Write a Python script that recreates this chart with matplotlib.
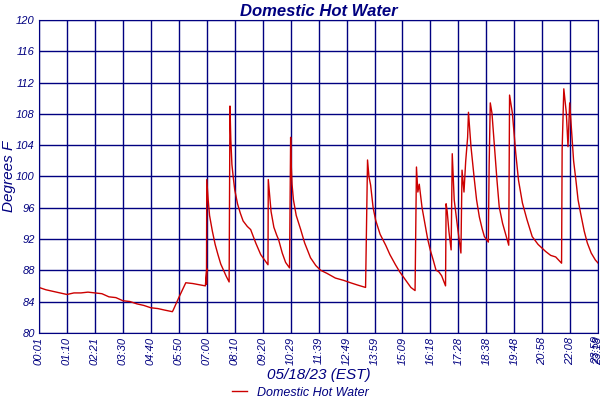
import matplotlib
matplotlib.use("Agg")
import matplotlib.pyplot as plt

tick_labels = ["00:01","01:10","02:21","03:30","04:40","05:50","07:00","08:10","09:20","10:29",
               "11:39","12:49","13:59","15:09","16:18","17:28","18:38","19:48","20:58","22:08","23:18"]

t = [0,0.25,0.5,0.75,1,1.25,1.5,1.75,2,2.25,2.5,2.75,3,3.25,3.5,3.75,4,4.25,4.5,4.77,4.8,5.0,5.25,5.5,5.95,6.0,5.99,
     6.0,6.05,6.1,6.2,6.3,6.4,6.5,6.6,6.7,6.8,6.83,6.86,6.9,6.95,7.0,7.1,7.2,7.3,7.45,7.57,7.75,7.93,8.19,
     8.2,8.25,8.3,8.4,8.5,8.57,8.7,8.82,8.96,9.0,9.02,9.05,9.1,9.2,9.36,9.5,9.71,9.9,10.07,10.3,10.6,10.9,11.14,11.4,11.68,
     11.75,11.8,11.86,11.95,12.04,12.2,12.4,12.55,12.75,12.9,13.1,13.3,13.45,
     13.5,13.55,13.6,13.7,13.8,13.9,14.0,14.1,14.2,14.3,14.4,14.54,
     14.56,14.6,14.66,14.74,14.78,14.85,14.97,15.09,15.13,15.2,15.26,15.33,15.36,15.45,15.57,15.65,15.75,15.85,15.93,16.07,
     16.1,16.14,16.2,16.29,16.38,16.46,16.58,16.7,16.8,
     16.83,16.93,17.05,17.15,17.29,17.45,17.64,17.85,18.12,18.3,18.48,18.69,
     18.71,18.77,18.86,18.92,18.98,19.05,19.12,19.2,19.28,19.37,19.5,19.61,19.75,19.9,20.0]
temp = [85.8,85.5,85.3,85.1,84.9,85.1,85.1,85.2,85.1,85.0,84.6,84.5,84.1,84.0,83.7,83.5,83.2,83.1,82.9,82.7,82.9,84.5,86.4,86.3,86.0,88.2,86.2,
        99.6,97.0,95.0,93.0,91.3,90.0,88.8,88.0,87.2,86.5,109.0,104.7,101.5,99.8,98.3,96.5,95.3,94.3,93.6,93.2,91.5,90.0,88.7,
        99.6,97.5,95.5,93.5,92.5,91.9,90.2,89.0,88.3,105.0,101.5,99.0,97.0,95.0,93.2,91.5,89.6,88.6,88.0,87.6,87.0,86.7,86.4,86.1,85.8,
        102.1,100.0,98.9,96.0,94.4,92.6,91.2,90.0,88.7,87.8,86.8,85.8,85.4,
        101.2,98.0,99.0,96.0,94.0,92.0,90.5,89.3,88.0,87.8,87.3,86.0,
        96.5,95.5,93.0,90.6,102.9,97.0,93.5,90.2,100.8,98.0,101.9,105.0,108.2,103.8,99.6,97.0,94.8,93.3,92.3,91.6,
        101.5,109.4,108.1,103.8,99.5,96.1,94.0,92.5,91.2,
        110.4,108.1,103.0,99.5,96.6,94.5,92.3,91.3,90.4,89.9,89.7,88.9,
        103.4,111.2,108.1,103.8,109.4,105.6,102.0,99.6,97.0,95.3,93.0,91.5,90.2,89.3,88.9]

navy = "#000080"
fig = plt.figure(figsize=(6, 4), dpi=100)
ax = fig.add_axes([0.065, 0.168, 0.932, 0.782])
ax.plot(t, temp, color="#cc0000", lw=1.0, label="Domestic Hot Water")
ax.set_xlim(0, 20)
ax.set_ylim(80, 120)
ax.set_yticks(range(80, 121, 4))
ax.set_xticks(range(21))
ax.set_xticklabels(tick_labels, rotation=90)
ax.grid(True, color=navy, lw=1)
for s in ax.spines.values():
    s.set_color(navy)
ax.tick_params(colors=navy, length=0, pad=3)
for lab in ax.get_xticklabels() + ax.get_yticklabels():
    lab.set_fontstyle("italic"); lab.set_fontsize(8); lab.set_color(navy); lab.set_family("Liberation Sans")
ax.text(19.93, 79.6, "23:59", rotation=90, ha="center", va="top", fontsize=8, color=navy, style="italic", family="Liberation Sans")
ax.set_title("Domestic Hot Water", fontsize=12, fontweight="bold", style="italic", color=navy, family="Liberation Sans", pad=3)
ax.set_xlabel("05/18/23 (EST)", fontsize=11, style="italic", color=navy, family="Liberation Sans", labelpad=2)
ax.set_ylabel("Degrees F", fontsize=11, style="italic", color=navy, family="Liberation Sans", labelpad=0)
leg = fig.legend(loc="lower center", bbox_to_anchor=(0.5, -0.025), frameon=False, handlelength=1.2,
                 prop={"family": "Liberation Sans", "style": "italic", "size": 9})
for tx in leg.get_texts():
    tx.set_color(navy)
fig.savefig("out.png")
